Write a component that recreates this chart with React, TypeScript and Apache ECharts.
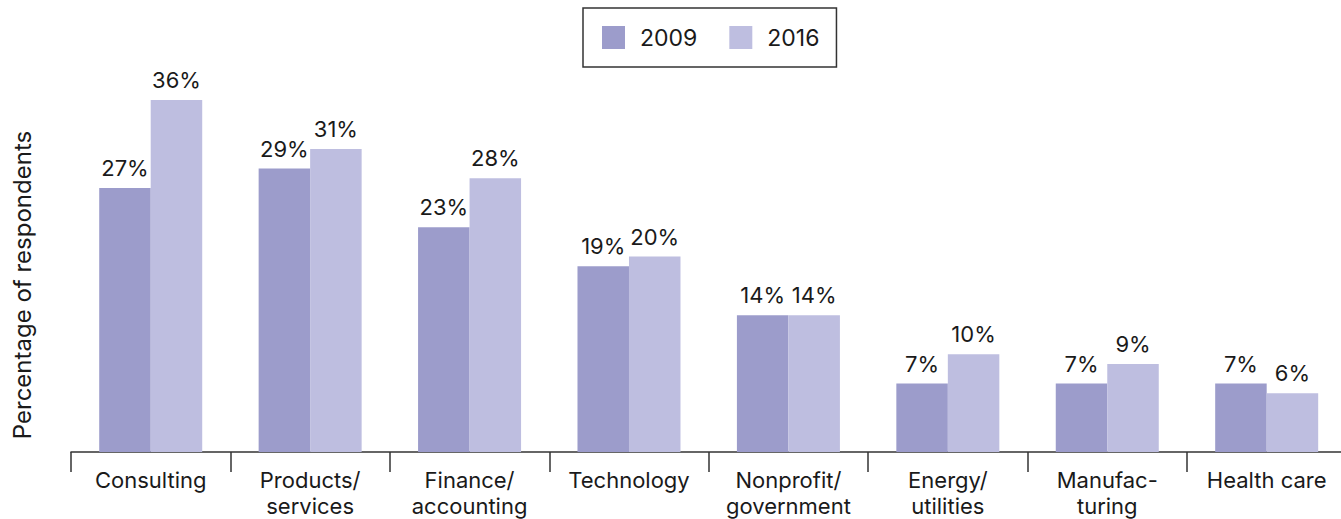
import React, { useEffect, useRef } from "react";
import * as echarts from "echarts";

const categories = [
  "Consulting",
  "Products/\nservices",
  "Finance/\naccounting",
  "Technology",
  "Nonprofit/\ngovernment",
  "Energy/\nutilities",
  "Manufac-\nturing",
  "Health care",
];
const values2009 = [27, 29, 23, 19, 14, 7, 7, 7];
const values2016 = [36, 31, 28, 20, 14, 10, 9, 6];
const seriesNames = ["2009", "2016"];
const yAxisTitle = "Percentage of respondents";

const FONT = "Inter, 'Liberation Sans', Arial, sans-serif";
const COLORS = ["#9c9ccb", "#bebee0"];

export default function App() {
  const ref = useRef<HTMLDivElement>(null);
  useEffect(() => {
    if (!ref.current) return;
    const chart = echarts.init(ref.current, undefined, { renderer: "svg" });
    const label = {
      show: true,
      position: "top" as const,
      distance: 9,
      formatter: "{c}%",
      color: "#1a1a1a",
      fontFamily: FONT,
      fontSize: 22,
    };
    chart.setOption({
      animation: false,
      textStyle: { fontFamily: FONT },
      grid: { left: 71, top: 61, width: 1275.4, height: 392, containLabel: false },
      legend: {
        data: seriesNames,
        left: 583,
        top: 8,
        orient: "horizontal",
        itemWidth: 23,
        itemHeight: 23,
        itemGap: 32,
        padding: [18, 17, 18, 19],
        borderColor: "#333",
        borderWidth: 1.5,
        icon: "rect",
        textStyle: {
          fontFamily: FONT,
          fontSize: 23,
          color: "#1a1a1a",
          padding: [0, 0, 0, 10],
        },
      },
      xAxis: {
        type: "category",
        data: categories,
        axisLine: { lineStyle: { color: "#333", width: 1.5 } },
        axisTick: { show: true, length: 20, interval: 0, lineStyle: { color: "#333", width: 1.5 } },
        axisLabel: {
          interval: 0,
          margin: 15,
          color: "#1a1a1a",
          fontFamily: FONT,
          fontSize: 22,
          lineHeight: 26,
        },
      },
      yAxis: {
        type: "value",
        min: 0,
        max: 40,
        show: false,
        splitLine: { show: false },
      },
      graphic: [
        {
          type: "text",
          x: 22,
          y: 285,
          rotation: Math.PI / 2,
          style: {
            text: yAxisTitle,
            fontFamily: FONT,
            fontSize: 24,
            fill: "#1a1a1a",
            align: "center",
            verticalAlign: "middle",
          },
        },
      ],
      series: [
        {
          name: seriesNames[0],
          type: "bar",
          data: values2009,
          barWidth: 51.5,
          barGap: "0%",
          itemStyle: { color: COLORS[0] },
          label,
        },
        {
          name: seriesNames[1],
          type: "bar",
          data: values2016,
          barWidth: 51.5,
          barGap: "0%",
          itemStyle: { color: COLORS[1] },
          label,
        },
      ],
    });
    return () => chart.dispose();
  }, []);
  return (
    <div
      ref={ref}
      style={{ position: "absolute", left: 0, top: 0, width: 1350, height: 519, background: "#fff" }}
    />
  );
}
